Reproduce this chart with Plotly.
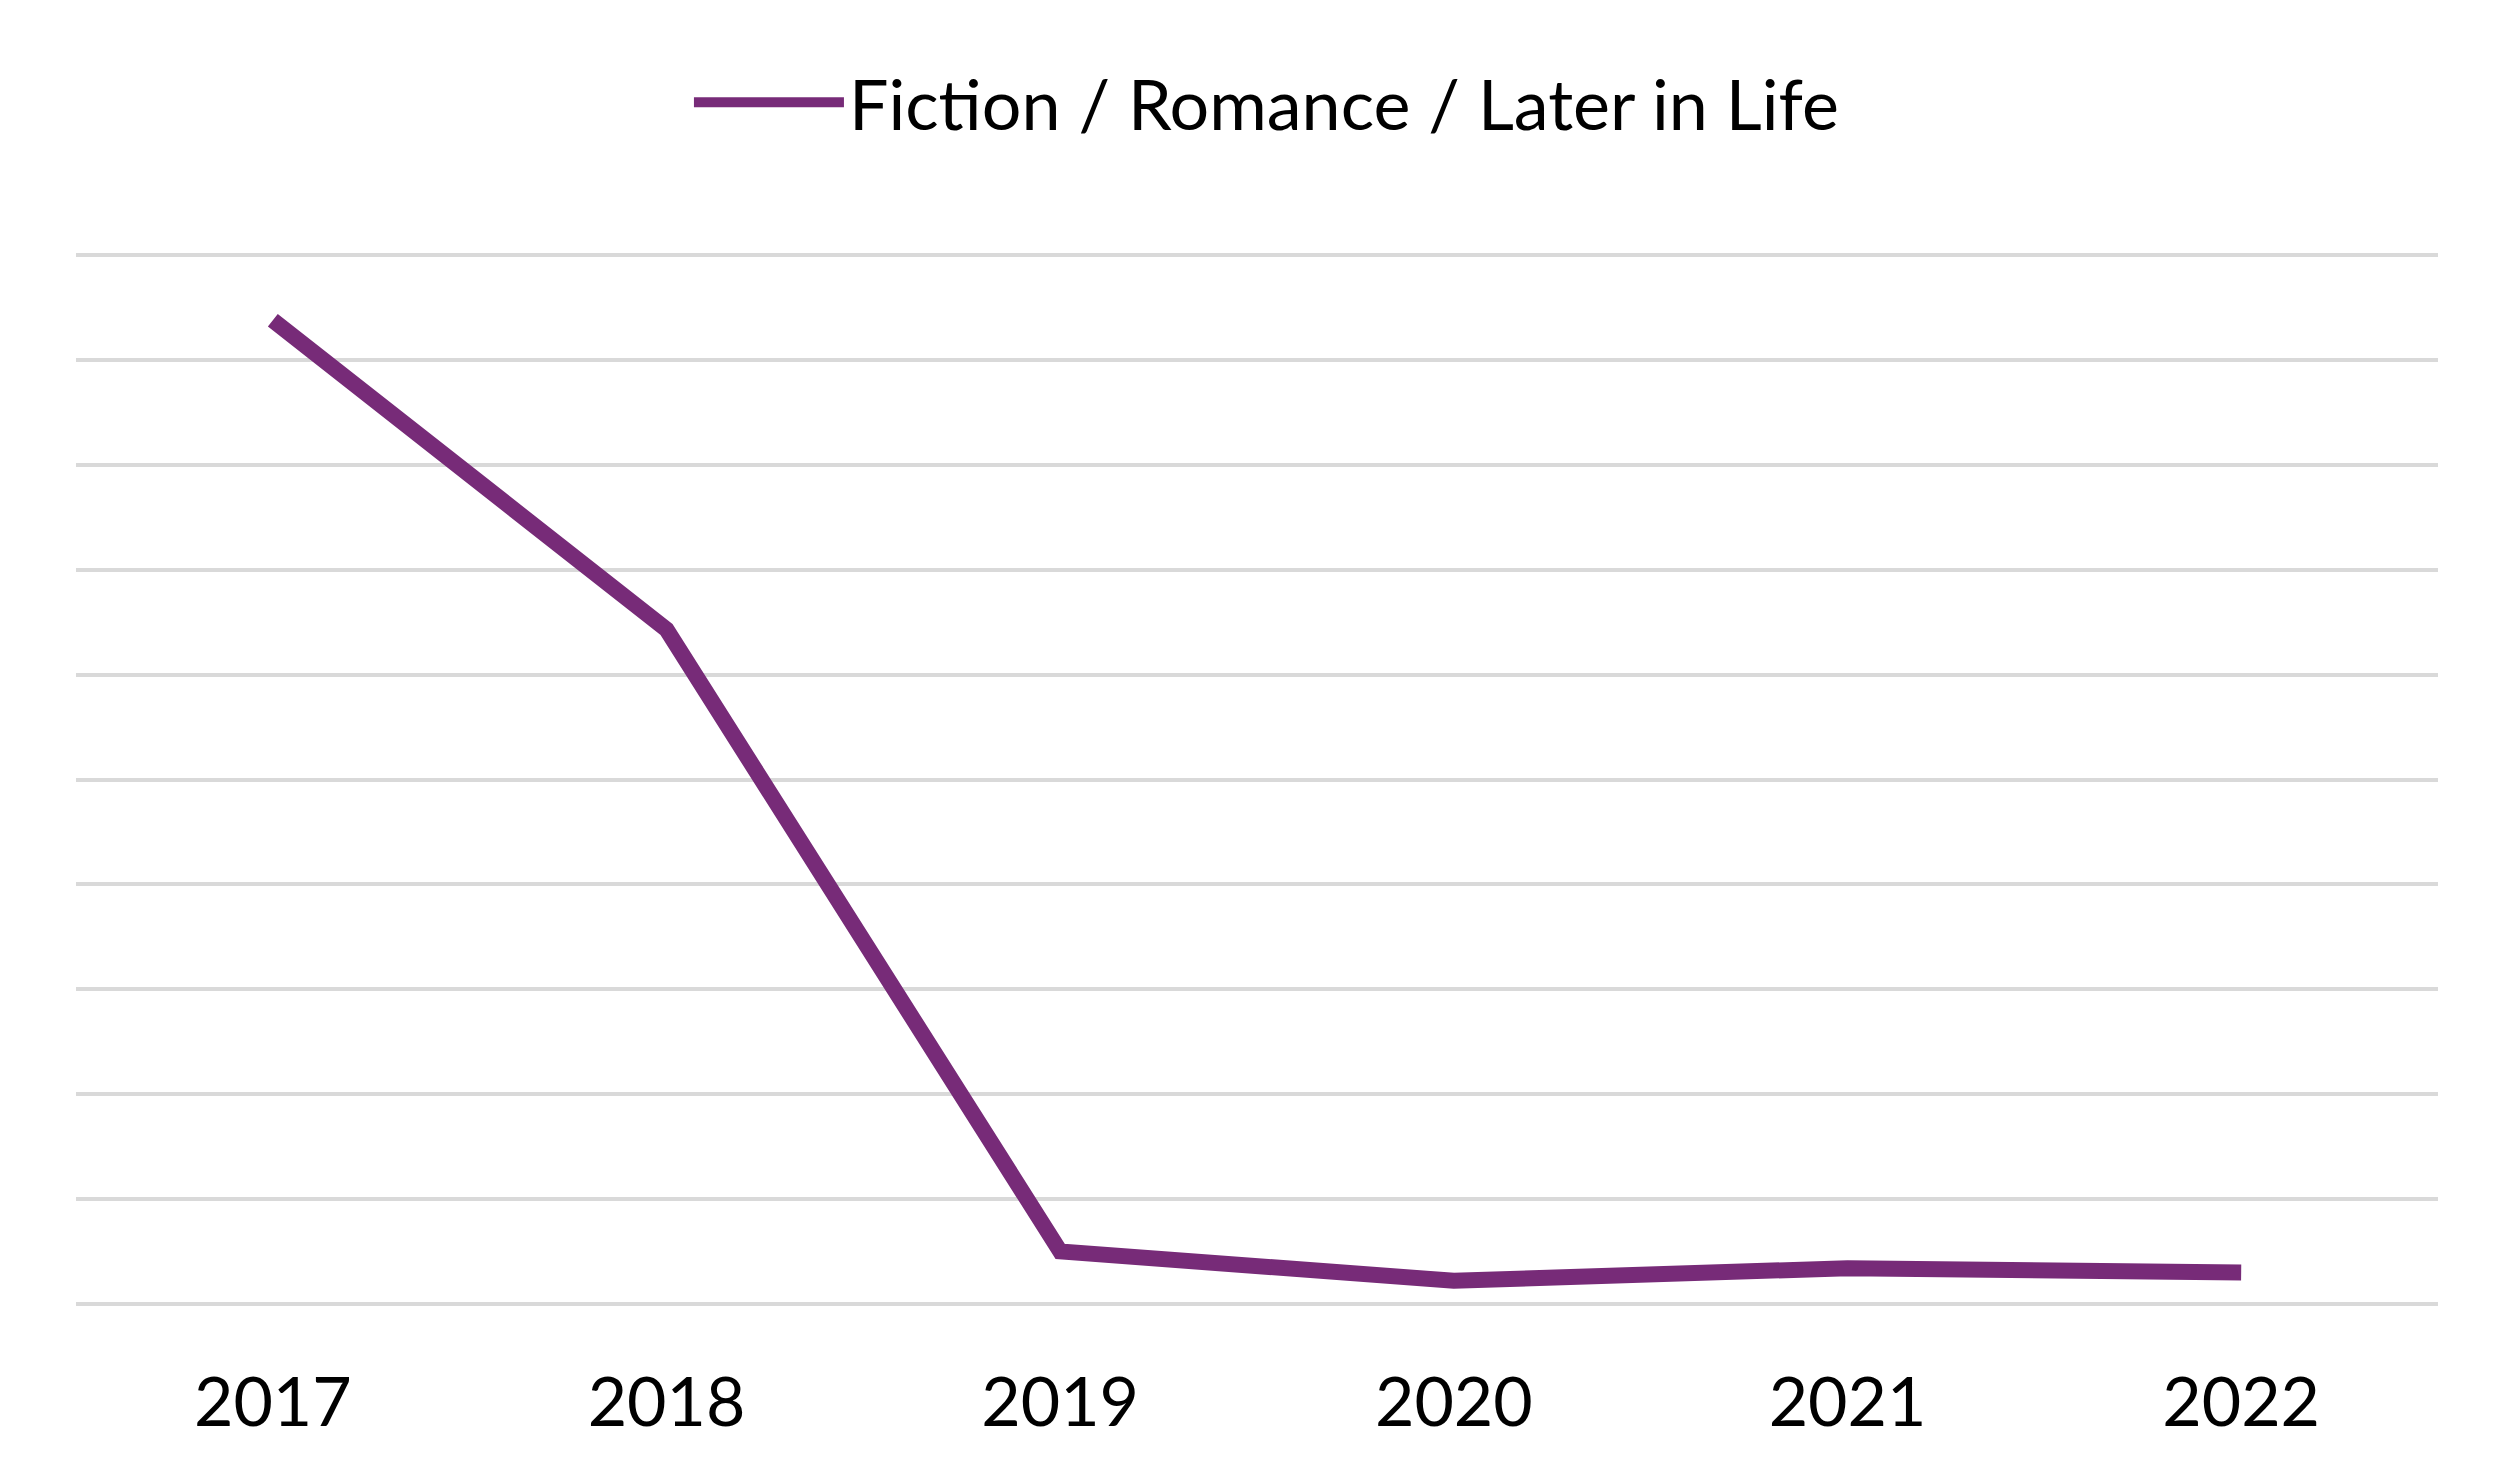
import plotly.graph_objects as go

years = ["2017", "2018", "2019", "2020", "2021", "2022"]
share = [9.38, 6.43, 0.50, 0.22, 0.34, 0.30]
series_name = "Fiction / Romance / Later in Life"

PURPLE = "#772B78"
GRID = "#D9D9D9"
FONT = "Lato, 'Open Sans', sans-serif"

fig = go.Figure(
    go.Scatter(
        x=years,
        y=share,
        mode="lines",
        name=series_name,
        line=dict(color=PURPLE, width=16),
    )
)

# pad the y range a touch so the 0 and 10 gridlines are still drawn
fig.update_layout(
    width=2500,
    height=1481,
    margin=dict(l=68, r=70, t=244, b=182),
    paper_bgcolor="white",
    plot_bgcolor="white",
    font=dict(family=FONT, size=66, color="black"),
    showlegend=True,
    legend=dict(
        orientation="h",
        x=0.504,
        xanchor="center",
        y=1.142,
        yanchor="middle",
        itemwidth=150,
        font=dict(size=70, color="black"),
        bgcolor="rgba(0,0,0,0)",
    ),
)

fig.update_xaxes(
    type="category",
    range=[-0.5, 5.5],
    showgrid=False,
    zeroline=False,
    showline=False,
    ticks="outside",
    ticklen=36,
    tickcolor="rgba(0,0,0,0)",
    tickfont=dict(size=68, color="black"),
)

fig.update_yaxes(
    range=[-0.03, 10.03],
    tick0=0,
    dtick=1,
    showgrid=True,
    gridcolor=GRID,
    gridwidth=4,
    zeroline=False,
    showticklabels=False,
    fixedrange=True,
)

fig.write_html("out.html")
